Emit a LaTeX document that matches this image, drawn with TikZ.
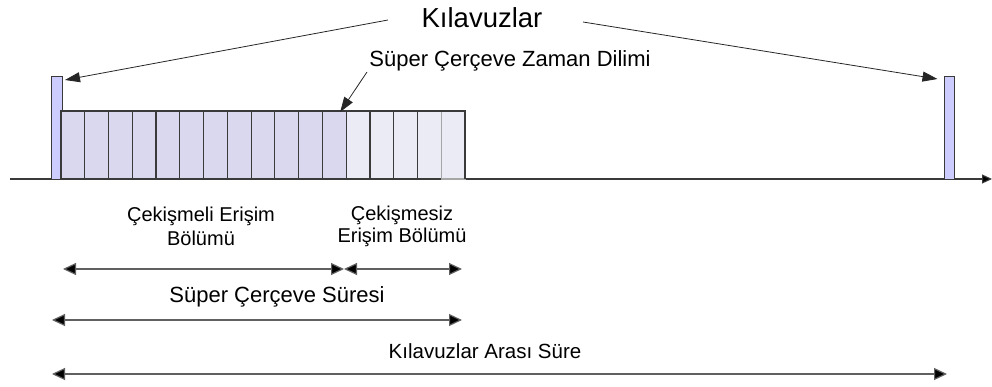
\documentclass[tikz,border=0pt]{standalone}
\usepackage{fontspec}
\setmainfont{Liberation Sans}
\usetikzlibrary{arrows.meta}

\definecolor{beaconfill}{HTML}{CCCCFF}
\definecolor{capfill}{HTML}{DAD8EE}
\definecolor{cfpfill}{HTML}{EBEBF6}
\definecolor{edge}{HTML}{3A3A3A}
\definecolor{dimline}{HTML}{606060}

\begin{document}
\begin{tikzpicture}[x=1pt,y=-1pt,
  beacon/.style={draw=edge, fill=beaconfill, line width=0.9pt,
    minimum height=103pt, inner sep=0pt, outer sep=0pt},
  slot/.style={draw=edge, line width=1.2pt, minimum width=23.765pt,
    minimum height=68pt, inner sep=0pt, outer sep=0pt},
  label/.style={inner sep=0pt, outer sep=0pt, anchor=base},
  pointer/.style={draw=black!85, line width=0.8pt,
    -{Triangle[length=15pt,width=10pt]}},
  span/.style={draw=dimline, line width=1.2pt,
    {Triangle[length=13pt,width=12pt,fill=black]}-{Triangle[length=13pt,width=12pt,fill=black]}},
  axisline/.style={draw=edge, line width=1.1pt,
    -{Triangle[length=10pt,width=9pt,fill=black]}}
]
\useasboundingbox (0,0) rectangle (992,387);

% time axis
\coordinate (ax0) at (10,179);
\coordinate (ax1) at (992,179);
\draw[axisline] (ax0) -- (ax1);

% beacons
\node[beacon, minimum width=11pt] (bl) at (56.5,127.5) {};
\node[beacon, minimum width=10pt] (br) at (949.5,127.5) {};

% superframe slots: contention part, then contention-free part
\foreach \i in {1,...,17}{
  \pgfmathsetmacro{\cx}{61+(\i-0.5)*23.765}
  \ifnum\i<13
    \node[slot, fill=capfill] (s\i) at (\cx,145) {};
  \else
    \ifnum\i<17
      \node[slot, fill=cfpfill] (s\i) at (\cx,145) {};
    \else
      \node[slot, fill=cfpfill, draw=black!35] (s\i) at (\cx,145) {};
    \fi
  \fi
}
\draw[edge, line width=1.2pt] (s17.north west) -- (s17.north east) -- (s17.south east);

% titles
\node[label, font=\fontsize{27.5}{30}\selectfont] (kil) at (482,28) {Kılavuzlar};
\node[label, font=\fontsize{22}{26}\selectfont] (szd) at (510,67) {Süper Çerçeve Zaman Dilimi};

\coordinate (kl) at (388,20);
\coordinate (kr) at (583,22);
\coordinate (zs) at (367,72);
\draw[pointer] (kl) -- ([xshift=3pt,yshift=-4pt]bl.north east);
\draw[pointer] (kr) -- ([xshift=-7pt,yshift=-3pt]br.north west);
\draw[pointer] (zs) -- ([xshift=-6pt,yshift=-1pt]s12.north east);

% part labels
\node[label, font=\fontsize{20}{24}\selectfont] (capa) at (201,222) {Çekişmeli Erişim};
\node[label, font=\fontsize{20}{24}\selectfont] (capb) at (201,245) {Bölümü};
\node[label, font=\fontsize{20}{24}\selectfont] (cfpa) at (402,221) {Çekişmesiz};
\node[label, font=\fontsize{20}{24}\selectfont] (cfpb) at (402,243) {Erişim Bölümü};

% durations
\coordinate (d1a) at (63,269);
\coordinate (d1m) at (344,269);
\coordinate (d1b) at (462,269);
\draw[span] (d1a) -- (d1m);
\draw[span] (d1m) -- (d1b);

\node[label, font=\fontsize{22}{26}\selectfont] (sfd) at (277,302) {Süper Çerçeve Süresi};
\coordinate (d2a) at (52,320);
\coordinate (d2b) at (462,320);
\draw[span] (d2a) -- (d2b);

\node[label, font=\fontsize{20.5}{24}\selectfont] (bid) at (485,358) {Kılavuzlar Arası Süre};
\coordinate (d3a) at (52,374);
\coordinate (d3b) at (947,374);
\draw[span] (d3a) -- (d3b);
\end{tikzpicture}
\end{document}
